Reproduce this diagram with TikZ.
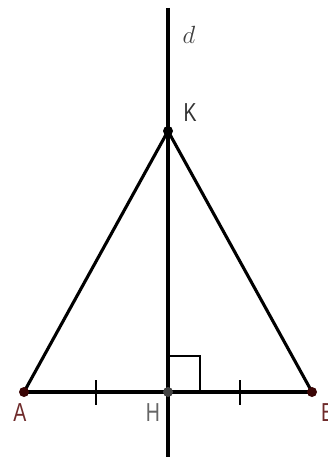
\documentclass[tikz,border=0pt]{standalone}
\usepackage{fontspec}
\setsansfont{Liberation Sans}[FakeStretch=0.75]
\begin{document}
\begin{tikzpicture}[x=1pt,y=-1pt,
  seg/.style={line width=3.1pt},
  tickmark/.style={line width=2.8pt},
  rangle/.style={line width=1.6pt},
  ptA/.style={circle,fill=ptred,inner sep=0pt,minimum size=10pt},
  ptH/.style={circle,fill=ptgray,inner sep=0pt,minimum size=10pt},
  ptK/.style={circle,fill=black,inner sep=0pt,minimum size=10pt},
  lbl/.style={font=\sffamily\fontsize{26}{26}\selectfont,inner sep=0pt}]
\definecolor{ptred}{HTML}{3A0505}
\definecolor{ptgray}{HTML}{444444}
\definecolor{lblred}{HTML}{6E2A2A}
\definecolor{lblgray}{HTML}{666666}
\useasboundingbox (0,0) rectangle (327,457);
\coordinate (A) at (24,392);
\coordinate (B) at (312,392);
\coordinate (H) at (168,392);
\coordinate (K) at (168,131);
\coordinate (dtop) at (168,8);
\coordinate (dbot) at (168,460);
\coordinate (t1a) at (96,380);
\coordinate (t1b) at (96,405);
\coordinate (t2a) at (240,380);
\coordinate (t2b) at (240,405);
\coordinate (sq1) at (168,356);
\coordinate (sq2) at (200,356);
\coordinate (sq3) at (200,392);
\draw[seg] (dtop) -- (dbot);
\draw[seg] (A) -- (B);
\draw[seg,line join=round] (A) -- (K) -- (B);
\draw[tickmark] (t1a) -- (t1b);
\draw[tickmark] (t2a) -- (t2b);
\draw[rangle] (sq1) -- (sq2) -- (sq3);
\node[ptA] (nA) at (A) {};
\node[ptA] (nB) at (B) {};
\node[ptH] (nH) at (H) {};
\node[ptK] (nK) at (K) {};
\node[lbl,text=lblred] (lA) at (20,413) {A};
\node[lbl,text=lblred,anchor=west] (lB) at (321,413) {B};
\node[lbl,text=lblgray] (lH) at (153,413) {H};
\node[lbl,text=black!80] (lK) at (190,113) {K};
\node[inner sep=0pt,text=black!75,font=\fontsize{30}{30}\selectfont] (ld) at (189,35) {$d$};
\end{tikzpicture}
\end{document}
